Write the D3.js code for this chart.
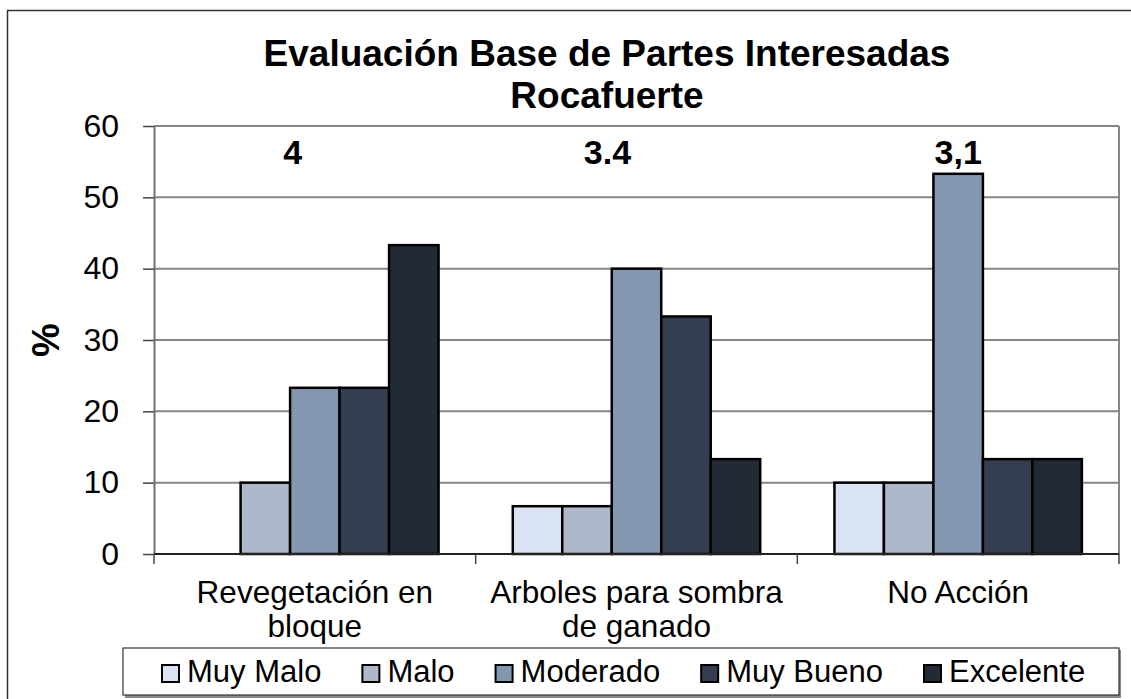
<!DOCTYPE html>
<html>
<head>
<meta charset="utf-8">
<script src="https://cdn.jsdelivr.net/npm/d3@7"></script>
<style>
  body { margin: 0; background: #fff; }
  text { font-family: "Liberation Sans", Arial, sans-serif; }
</style>
</head>
<body>
<script>
// chart data
var categories = ["Revegetación en bloque", "Arboles para sombra de ganado", "No Acción"];
var series = ["Muy Malo", "Malo", "Moderado", "Muy Bueno", "Excelente"];
var muyMalo   = [0, 6.7, 10];
var malo      = [10, 6.7, 10];
var moderado  = [23.3, 40, 53.3];
var muyBueno  = [23.3, 33.3, 13.3];
var excelente = [43.3, 13.3, 13.3];
var scores = ["4", "3.4", "3,1"];
var yTicks = [0, 10, 20, 30, 40, 50, 60];

var colors = ["#dae3f3", "#adb9ca", "#8497b0", "#333f50", "#222a35"];
var values = [muyMalo, malo, moderado, muyBueno, excelente];

var width = 1131, height = 699;
var plotLeft = 154, plotRight = 1119, plotTop = 126, plotBottom = 554;

var svg = d3.select('body').append('svg')
  .attr('width', width)
  .attr('height', height);

// outer chart frame (only left/top edges fall inside the picture)
svg.append('rect')
  .attr('x', 7.5).attr('y', 10.5)
  .attr('width', 1300).attr('height', 900)
  .attr('fill', '#fff')
  .attr('stroke', '#333').attr('stroke-width', 1.5);

var x0 = d3.scaleBand().domain(categories).range([plotLeft, plotRight]);
var x1 = d3.scaleBand().domain(series).range([0, x0.bandwidth()]).paddingOuter(0.75);
var y = d3.scaleLinear().domain([0, 60]).range([plotBottom, plotTop]);

// gridlines
svg.append('g').selectAll('line')
  .data(yTicks.filter(function(d) { return d > 0; }))
  .enter().append('line')
  .attr('x1', plotLeft).attr('x2', plotRight)
  .attr('y1', function(d) { return y(d); })
  .attr('y2', function(d) { return y(d); })
  .attr('stroke', '#868686').attr('stroke-width', 2);

// plot right border
svg.append('line')
  .attr('x1', plotRight).attr('x2', plotRight)
  .attr('y1', plotTop).attr('y2', plotBottom)
  .attr('stroke', '#868686').attr('stroke-width', 2);

// y axis
var yAxis = svg.append('g')
  .attr('transform', 'translate(' + plotLeft + ',0)')
  .call(d3.axisLeft(y).tickValues(yTicks).tickSize(11).tickSizeOuter(0).tickPadding(24));
yAxis.select('.domain').attr('stroke', '#707070').attr('stroke-width', 2);
yAxis.selectAll('.tick line').attr('stroke', '#444').attr('stroke-width', 1.5);
yAxis.selectAll('.tick text')
  .attr('font-size', 32)
  .attr('fill', '#000')
  .style('font-family', '"Liberation Sans", Arial, sans-serif');

// bars
var groups = svg.append('g').selectAll('g')
  .data(categories)
  .enter().append('g')
  .attr('transform', function(d) { return 'translate(' + x0(d) + ',0)'; });

groups.selectAll('rect')
  .data(function(c, ci) {
    return series.map(function(s, si) { return { s: s, si: si, v: values[si][ci] }; });
  })
  .enter().append('rect')
  .filter(function(d) { return d.v > 0; })
  .attr('x', function(d) { return x1(d.s); })
  .attr('y', function(d) { return y(d.v); })
  .attr('width', x1.bandwidth())
  .attr('height', function(d) { return plotBottom - y(d.v); })
  .attr('fill', function(d) { return colors[d.si]; })
  .attr('stroke', '#000').attr('stroke-width', 2.5);

// x axis line and ticks at category boundaries
svg.append('line')
  .attr('x1', plotLeft).attr('x2', plotRight)
  .attr('y1', plotBottom).attr('y2', plotBottom)
  .attr('stroke', '#222').attr('stroke-width', 2);

var bounds = categories.map(function(c) { return x0(c); }).concat([plotRight]);
svg.append('g').selectAll('line')
  .data(bounds)
  .enter().append('line')
  .attr('x1', function(d) { return d; }).attr('x2', function(d) { return d; })
  .attr('y1', plotBottom).attr('y2', plotBottom + 10)
  .attr('stroke', '#444').attr('stroke-width', 1.5);

// category labels, wrapped to the band width
var catLabels = svg.append('g').selectAll('text')
  .data(categories)
  .enter().append('text')
  .attr('x', function(d) { return x0(d) + x0.bandwidth() / 2; })
  .attr('y', 603)
  .attr('text-anchor', 'middle')
  .attr('font-size', 31.5)
  .attr('fill', '#000');

catLabels.each(function(d) {
  var el = d3.select(this);
  var words = d.split(' ');
  var lines = [], line = [];
  var probe = el.append('tspan');
  words.forEach(function(w) {
    var test = line.concat([w]).join(' ');
    probe.text(test);
    if (probe.node().getComputedTextLength() > x0.bandwidth() * 0.95 && line.length) {
      lines.push(line.join(' '));
      line = [w];
    } else {
      line.push(w);
    }
  });
  lines.push(line.join(' '));
  probe.remove();
  lines.forEach(function(t, i) {
    el.append('tspan')
      .attr('x', el.attr('x'))
      .attr('dy', i === 0 ? 0 : 34)
      .text(t);
  });
});

// score annotations above each group
var scoreShift = [-22, -29, 0];
svg.append('g').selectAll('text')
  .data(scores)
  .enter().append('text')
  .attr('x', function(d, i) { return x0(categories[i]) + x0.bandwidth() / 2 + scoreShift[i]; })
  .attr('y', 164)
  .attr('text-anchor', 'middle')
  .attr('font-size', 34)
  .attr('font-weight', 'bold')
  .text(function(d) { return d; });

// title
svg.append('text')
  .attr('x', 607).attr('y', 66)
  .attr('text-anchor', 'middle')
  .attr('font-size', 37).attr('font-weight', 'bold')
  .text('Evaluación Base de Partes Interesadas');
svg.append('text')
  .attr('x', 607).attr('y', 108)
  .attr('text-anchor', 'middle')
  .attr('font-size', 37).attr('font-weight', 'bold')
  .text('Rocafuerte');

// y axis title
svg.append('text')
  .attr('transform', 'translate(59,' + ((plotTop + plotBottom) / 2) + ') rotate(-90)')
  .attr('text-anchor', 'middle')
  .attr('font-size', 38).attr('font-weight', 'bold')
  .text('%');

// legend
var legend = svg.append('g');
legend.append('rect')
  .attr('x', 125).attr('y', 650)
  .attr('width', 996).attr('height', 48)
  .attr('fill', '#8a8a8a');
legend.append('rect')
  .attr('x', 123).attr('y', 648)
  .attr('width', 996).attr('height', 47)
  .attr('fill', '#fff')
  .attr('stroke', '#333').attr('stroke-width', 1.2);

var lx = 162;
series.forEach(function(s, i) {
  legend.append('rect')
    .attr('x', lx).attr('y', 665)
    .attr('width', 17).attr('height', 17)
    .attr('fill', colors[i])
    .attr('stroke', '#000').attr('stroke-width', 2);
  var t = legend.append('text')
    .attr('x', lx + 25).attr('y', 682)
    .attr('font-size', 31)
    .text(s);
  lx += 25 + t.node().getComputedTextLength() + 41;
});
</script>
</body>
</html>
